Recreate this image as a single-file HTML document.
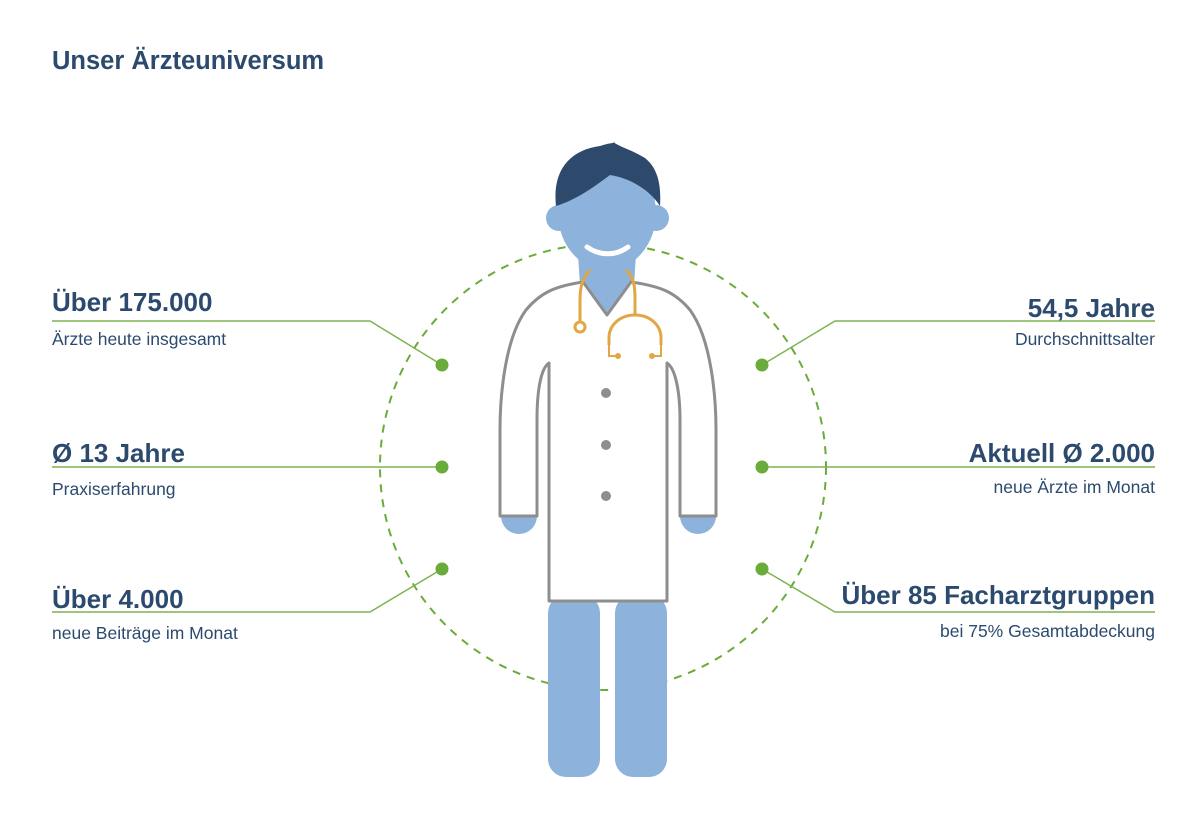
<!DOCTYPE html>
<html><head><meta charset="utf-8"><style>
html,body{margin:0;padding:0;background:#fff;}
body{width:1200px;height:835px;position:relative;overflow:hidden;font-family:"Liberation Sans",sans-serif;}
</style></head><body>
<svg width="1200" height="835" viewBox="0 0 1200 835" xmlns="http://www.w3.org/2000/svg" style="position:absolute;left:0;top:0">
<g font-family="Liberation Sans, sans-serif" fill="#2b4a6e">
<text x="52" y="69" font-size="25.5" font-weight="bold">Unser Ärzteuniversum</text>
<text x="52" y="311" font-size="26" font-weight="bold">Über 175.000</text>
<text x="52" y="345" font-size="17.5">Ärzte heute insgesamt</text>
<text x="52" y="462" font-size="26" font-weight="bold">Ø 13 Jahre</text>
<text x="52" y="495" font-size="17.5">Praxiserfahrung</text>
<text x="52" y="608" font-size="26" font-weight="bold">Über 4.000</text>
<text x="52" y="639" font-size="17.5">neue Beiträge im Monat</text>
<text x="1155" y="317" font-size="26" font-weight="bold" text-anchor="end">54,5 Jahre</text>
<text x="1155" y="345" font-size="17.5" text-anchor="end">Durchschnittsalter</text>
<text x="1155" y="462" font-size="26" font-weight="bold" text-anchor="end">Aktuell Ø 2.000</text>
<text x="1155" y="493" font-size="17.5" text-anchor="end">neue Ärzte im Monat</text>
<text x="1155" y="604" font-size="26" font-weight="bold" text-anchor="end">Über 85 Facharztgruppen</text>
<text x="1155" y="637" font-size="17.5" text-anchor="end">bei 75% Gesamtabdeckung</text>
</g>
<circle cx="603" cy="467" r="223" fill="none" stroke="#6aac3a" stroke-width="2" stroke-dasharray="8 7"/>
<g stroke="#7db451" stroke-width="1.5" fill="none">
<polyline points="52,321 370,321 442,365"/>
<polyline points="52,467 442,467"/>
<polyline points="52,612 370,612 442,569"/>
<polyline points="1155,321 835,321 762,365"/>
<polyline points="1155,467 762,467"/>
<polyline points="1155,612 835,612 762,569"/>
</g>
<g fill="#6aac3a">
<circle cx="442" cy="365" r="6.5"/><circle cx="442" cy="467" r="6.5"/><circle cx="442" cy="569" r="6.5"/>
<circle cx="762" cy="365" r="6.5"/><circle cx="762" cy="467" r="6.5"/><circle cx="762" cy="569" r="6.5"/>
</g>
<rect x="548" y="595" width="52" height="182" rx="18" fill="#8db2db"/>
<rect x="615" y="595" width="52" height="182" rx="18" fill="#8db2db"/>
<path d="M501,516 A18,18 0 0 0 537,516 Z" fill="#8db2db"/>
<path d="M680,516 A18,18 0 0 0 716,516 Z" fill="#8db2db"/>
<path d="M578,255 L636,255 L634,285 L607,315 L580,285 Z" fill="#8db2db"/>
<path d="M583,282 L607,315 L631,282 C660,286 675,292 690,310 C712,340 716,400 716,430 L716,516 L680,516 L680,420 C680,390 675,368 667,363 L667,601 L549,601 L549,363 C541,368 537,390 537,420 L537,516 L500,516 L500,430 C500,400 504,340 526,310 C541,292 556,286 583,282 Z" fill="#fff" stroke="#8e8e8e" stroke-width="3" stroke-linejoin="round"/>
<line x1="549" y1="365" x2="549" y2="601" stroke="#8e8e8e" stroke-width="3"/>
<line x1="667" y1="365" x2="667" y2="601" stroke="#8e8e8e" stroke-width="3"/>
<circle cx="606" cy="393" r="5" fill="#8e8e8e"/>
<circle cx="606" cy="445" r="5" fill="#8e8e8e"/>
<circle cx="606" cy="496" r="5" fill="#8e8e8e"/>
<circle cx="559" cy="218" r="13" fill="#8db2db"/>
<circle cx="656" cy="218" r="13" fill="#8db2db"/>
<ellipse cx="607" cy="213" rx="49" ry="57" fill="#8db2db"/>
<path d="M556,206 C552,170 570,150 600,146 C612,142 618,143 613,142 C622,148 632,150 645,158 C660,170 661,190 660,206 C650,190 630,178 610,175 C590,190 575,200 556,206 Z" fill="#2d4a6c"/>
<path d="M587,247 C600,256 616,256 628,247" stroke="#fff" stroke-width="5" fill="none" stroke-linecap="round"/>
<g stroke="#e0a744" stroke-width="3" fill="none">
<path d="M590,270 C583,278 580,285 580,300 L580,322"/>
<circle cx="580" cy="327" r="5"/>
<path d="M626,270 C634,278 635,285 635,300 L635,315"/>
<path d="M609,345 L609,338 C609,325 620,315 635,315 C650,315 661,325 661,338 L661,345"/>
<path d="M609,344 L609,356 L617,356 M661,344 L661,356 L652,356" stroke-width="2"/>
</g>
<circle cx="618" cy="356" r="3" fill="#e0a744"/>
<circle cx="652" cy="356" r="3" fill="#e0a744"/>
</svg>
</body></html>
